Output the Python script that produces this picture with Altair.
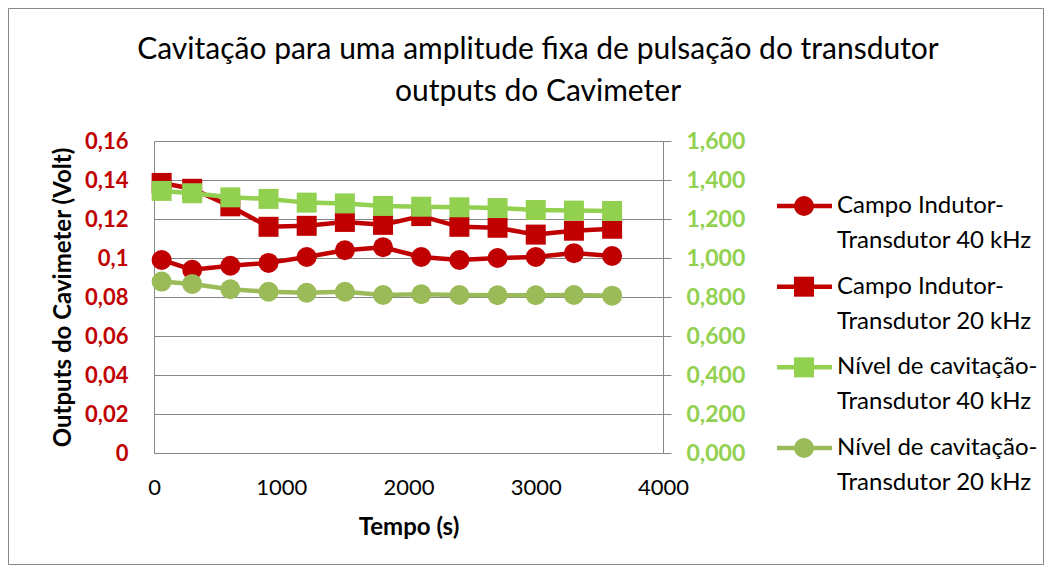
import altair as alt
import pandas as pd

# ---- data ----
tempo = [60, 300, 600, 900, 1200, 1500, 1800, 2100, 2400, 2700, 3000, 3300, 3600]
campo_40 = [0.099, 0.094, 0.096, 0.0975, 0.1005, 0.104, 0.1055, 0.1005, 0.099, 0.100, 0.1005, 0.1025, 0.101]
campo_20 = [0.1385, 0.1355, 0.1265, 0.116, 0.1165, 0.1185, 0.117, 0.1215, 0.116, 0.1155, 0.112, 0.114, 0.115]
nivel_40 = [1.344, 1.332, 1.311, 1.303, 1.284, 1.280, 1.267, 1.263, 1.260, 1.256, 1.246, 1.243, 1.241]
nivel_20 = [0.879, 0.867, 0.840, 0.827, 0.822, 0.827, 0.810, 0.814, 0.810, 0.809, 0.809, 0.810, 0.807]

series_names = [
    "Campo Indutor-Transdutor 40 kHz",
    "Campo Indutor-Transdutor 20 kHz",
    "Nível de cavitação-Transdutor 40 kHz",
    "Nível de cavitação-Transdutor 20 kHz",
]
legend_labels = [
    "Campo Indutor-\nTransdutor 40 kHz",
    "Campo Indutor-\nTransdutor 20 kHz",
    "Nível de cavitação-\nTransdutor 40 kHz",
    "Nível de cavitação-\nTransdutor 20 kHz",
]
title_text = "Cavitação para uma amplitude fixa de pulsação do transdutor\noutputs do Cavimeter"
series_colors = ["#C00000", "#C00000", "#92D050", "#9BBB59"]
series_shapes = ["circle", "square", "square", "circle"]

left_ticks = [0, 0.02, 0.04, 0.06, 0.08, 0.10, 0.12, 0.14, 0.16]
right_ticks = [0, 0.2, 0.4, 0.6, 0.8, 1.0, 1.2, 1.4, 1.6]
x_ticks = [0, 1000, 2000, 3000, 4000]

FONT = "Lato"
GRAY = "#868686"

rows = []
for name, vals in zip(series_names, [campo_40, campo_20, nivel_40, nivel_20]):
    for t, v in zip(tempo, vals):
        rows.append({"tempo": t, "valor": v, "serie": name})
df = pd.DataFrame(rows)
left_df = df[df["serie"].isin(series_names[:2])]
right_df = df[df["serie"].isin(series_names[2:])]

color_scale = alt.Scale(domain=series_names, range=series_colors)
shape_scale = alt.Scale(domain=series_names, range=series_shapes)

x_enc = alt.X(
    "tempo:Q",
    scale=alt.Scale(domain=[0, 4000], nice=False),
    axis=alt.Axis(
        values=x_ticks, format="d", title="Tempo (s)", grid=False, ticks=False,
        domainColor=GRAY, labelColor="black", labelFont=FONT, labelFontSize=22,
        labelPadding=24, titleFont=FONT, titleFontSize=24, titleFontWeight="bold",
        titleColor="black", titlePadding=17, labelFlush=False,
    ),
)

left_y = alt.Y(
    "valor:Q",
    scale=alt.Scale(domain=[0, 0.16], nice=False),
    axis=alt.Axis(
        orient="left", values=left_ticks, grid=True, gridColor=GRAY, ticks=False,
        domainColor=GRAY, labelExpr="replace(format(datum.value, '~g'), '.', ',')",
        labelColor="#C00000", labelFont=FONT, labelFontSize=22, labelFontWeight="bold",
        labelPadding=26, title="Outputs do Cavimeter (Volt)", titleFont=FONT,
        titleFontSize=24, titleFontWeight="bold", titleColor="black", titlePadding=9,
    ),
)
right_y = alt.Y(
    "valor:Q",
    scale=alt.Scale(domain=[0, 1.6], nice=False),
    axis=alt.Axis(
        orient="right", values=right_ticks, grid=False, ticks=True, tickSize=8,
        tickColor=GRAY, domainColor=GRAY,
        labelExpr="replace(format(datum.value, '.3f'), '.', ',')",
        labelColor="#92D050", labelFont=FONT, labelFontSize=23, labelFontWeight="bold",
        labelPadding=15, title=None,
    ),
)

def series_layer(data, y_enc):
    base = alt.Chart(data).encode(
        x=x_enc,
        y=y_enc,
        color=alt.Color("serie:N", scale=color_scale, legend=None),
    )
    line = base.mark_line(strokeWidth=4.5)
    pts = base.mark_point(filled=True, opacity=1, size=400).encode(
        shape=alt.Shape("serie:N", scale=shape_scale, legend=None)
    )
    return line + pts

left_layer = series_layer(left_df, left_y)
right_layer = series_layer(right_df, right_y)

# ---- legend (manual, drawn through its own scale) ----
leg_df = pd.DataFrame({"serie": series_names, "rotulo": legend_labels, "ordem": [0, 1, 2, 3]})
leg_y = alt.Y("ordem:Q", scale=alt.Scale(domain=[-0.806, 3.062], reverse=True, nice=False, zero=False), axis=None)
leg_base = alt.Chart(leg_df).encode(
    y=leg_y, color=alt.Color("serie:N", scale=color_scale, legend=None)
)
leg_line = leg_base.mark_rule(strokeWidth=4.5).encode(x=alt.value(623), x2=alt.value(678))
leg_pts = leg_base.mark_point(filled=True, opacity=1, size=400).encode(
    x=alt.value(650), shape=alt.Shape("serie:N", scale=shape_scale, legend=None)
)
leg_text = leg_base.mark_text(
    align="left", baseline="middle", dy=0, lineBreak="\n", lineHeight=35,
    font=FONT, fontSize=24, color="black",
).encode(x=alt.value(683), text="rotulo:N", color=alt.value("black"))
legend_layer = leg_line + leg_pts + leg_text

# ---- chart title (two centred lines) ----
title_layer = alt.Chart(pd.DataFrame({"titulo": [title_text]})).mark_text(
    align="center", baseline="alphabetic", lineBreak="\n", lineHeight=42,
    font=FONT, fontSize=30, color="black",
).encode(x=alt.value(384), y=alt.value(-82), text="titulo:N")

# outer chart border
border = alt.Chart(pd.DataFrame({"a": [0]})).mark_rect(
    fill=None, stroke=GRAY, strokeWidth=1
).encode(x=alt.value(-145.5), x2=alt.value(889.5), y=alt.value(-132.5), y2=alt.value(423.5))

chart = (
    alt.layer(left_layer, right_layer, legend_layer, title_layer, border)
    .resolve_scale(y="independent")
    .properties(
        width=509,
        height=312,
        padding={"left": 146, "top": 133, "right": 382, "bottom": 112},
        autosize=alt.AutoSizeParams(type="none"),
        background="white",
    )
    .configure_view(stroke=None)
)

chart.save("out.html", embed_options={"renderer": "svg", "actions": False})
